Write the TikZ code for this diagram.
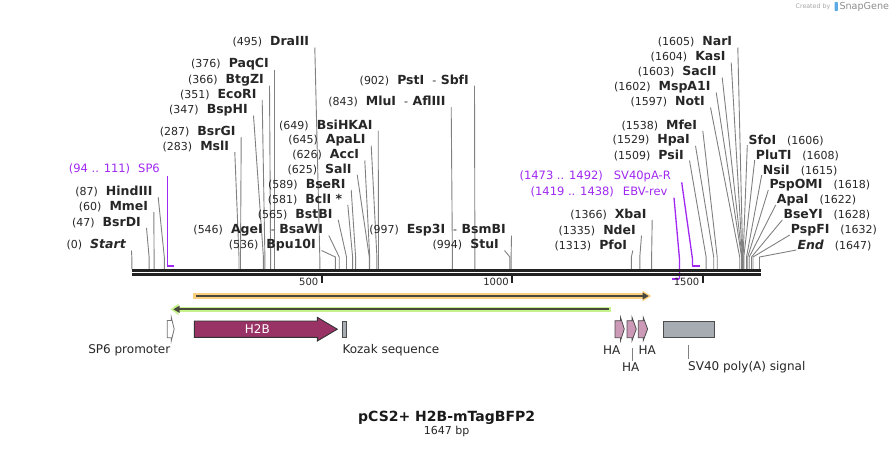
\documentclass[tikz,border=0pt]{standalone}
\usepackage{fontspec}
\setmainfont{DejaVu Sans}
\usepackage{tikz}

\definecolor{cutgray}{RGB}{128,128,128}
\definecolor{primer}{RGB}{160,40,240}
\definecolor{orfo}{RGB}{251,206,128}
\definecolor{orfg}{RGB}{198,242,140}
\definecolor{orfdark}{RGB}{72,72,60}
\definecolor{h2b}{RGB}{153,51,102}
\definecolor{hapink}{RGB}{204,153,182}
\definecolor{featgray}{RGB}{166,172,178}
\definecolor{bbone}{RGB}{34,34,34}
\definecolor{logoblue}{RGB}{90,170,230}

\newcommand{\enz}[1]{{\fontsize{12.5}{14}\selectfont\bfseries #1}}

\tikzset{
  cutl/.style={anchor=east,inner sep=0pt,font=\fontsize{11}{13}\selectfont,text=black!85},
  cutr/.style={anchor=west,inner sep=0pt,font=\fontsize{11}{13}\selectfont,text=black!85},
  cutline/.style={draw=cutgray,line width=0.9pt},
  primlbl/.style={anchor=east,inner sep=0pt,font=\fontsize{11.5}{13}\selectfont,text=primer},
  primline/.style={draw=primer,line width=1.3pt},
  featlbl/.style={inner sep=0pt,font=\fontsize{12}{14}\selectfont,text=black!85},
  featbox/.style={draw=black!70,line width=0.9pt,fill=featgray,inner sep=0pt},
  ticklbl/.style={anchor=east,inner sep=0pt,font=\fontsize{10}{12}\selectfont,text=black!85},
}

\begin{document}
\begin{tikzpicture}[x=1pt,y=-1pt]
\useasboundingbox (0,0) rectangle (893,448);

% left hand cut sites
\node[cutl] (start) at (126,245) {(0)\hspace{8pt}\enz{\itshape Start}};
\coordinate (start-c) at (131.8,269);
\draw[cutline] ([xshift=5.5pt,yshift=-5.5pt]start.east) -- ([yshift=12pt]start-c) -- (start-c);

\node[cutl] (bsrdi) at (141,222.3) {(47)\hspace{8pt}\enz{BsrDI}};
\coordinate (bsrdi-c) at (149.1,269);
\draw[cutline] ([xshift=5.5pt,yshift=-5.5pt]bsrdi.east) -- ([yshift=12pt]bsrdi-c) -- (bsrdi-c);

\node[cutl] (mmei) at (148.3,206.7) {(60)\hspace{8pt}\enz{MmeI}};
\coordinate (mmei-c) at (154.1,269);
\draw[cutline] ([xshift=5.5pt,yshift=-5.5pt]mmei.east) -- ([yshift=12pt]mmei-c) -- (mmei-c);

\node[cutl] (hindiii) at (152.7,191.7) {(87)\hspace{8pt}\enz{HindIII}};
\coordinate (hindiii-c) at (164.3,269);
\draw[cutline] ([xshift=5.5pt,yshift=-5.5pt]hindiii.east) -- ([yshift=12pt]hindiii-c) -- (hindiii-c);

\node[cutl] (msli) at (229.3,146.7) {(283)\hspace{8pt}\enz{MslI}};
\coordinate (msli-c) at (239.0,269);
\draw[cutline] ([xshift=5.5pt,yshift=-5.5pt]msli.east) -- ([yshift=12pt]msli-c) -- (msli-c);

\node[cutl] (bsrgi) at (235.7,131.7) {(287)\hspace{8pt}\enz{BsrGI}};
\coordinate (bsrgi-c) at (240.5,269);
\draw[cutline] ([xshift=5.5pt,yshift=-5.5pt]bsrgi.east) -- ([yshift=12pt]bsrgi-c) -- (bsrgi-c);

\node[cutl] (bsphi) at (248,110) {(347)\hspace{8pt}\enz{BspHI}};
\coordinate (bsphi-c) at (263.4,269);
\draw[cutline] ([xshift=5.5pt,yshift=-5.5pt]bsphi.east) -- ([yshift=12pt]bsphi-c) -- (bsphi-c);

\node[cutl] (ecori) at (256.7,94.3) {(351)\hspace{8pt}\enz{EcoRI}};
\coordinate (ecori-c) at (264.9,269);
\draw[cutline] ([xshift=5.5pt,yshift=-5.5pt]ecori.east) -- ([yshift=12pt]ecori-c) -- (ecori-c);

\node[cutl] (btgzi) at (264,80) {(366)\hspace{8pt}\enz{BtgZI}};
\coordinate (btgzi-c) at (270.6,269);
\draw[cutline] ([xshift=5.5pt,yshift=-5.5pt]btgzi.east) -- ([yshift=12pt]btgzi-c) -- (btgzi-c);

\node[cutl] (paqci) at (269,64.3) {(376)\hspace{8pt}\enz{PaqCI}};
\coordinate (paqci-c) at (274.5,269);
\draw[cutline] ([xshift=5.5pt,yshift=-5.5pt]paqci.east) -- ([yshift=12pt]paqci-c) -- (paqci-c);

\node[cutl] (draiii) at (309.3,42) {(495)\hspace{8pt}\enz{DraIII}};
\coordinate (draiii-c) at (319.8,269);
\draw[cutline] ([xshift=5.5pt,yshift=-5.5pt]draiii.east) -- ([yshift=12pt]draiii-c) -- (draiii-c);

\node[cutl] (bpuI) at (316,245) {(536)\hspace{8pt}\enz{Bpu10I}};
\coordinate (bpuI-c) at (335.4,269);
\draw[cutline] ([xshift=5.5pt,yshift=-5.5pt]bpuI.east) -- ([yshift=12pt]bpuI-c) -- (bpuI-c);

\node[cutl] (agei) at (323.3,230) {(546)\hspace{8pt}\enz{AgeI}\hspace{8pt}-\hspace{4.5pt}\enz{BsaWI}};
\coordinate (agei-c) at (339.2,269);
\draw[cutline] ([xshift=5.5pt,yshift=-5.5pt]agei.east) -- ([yshift=12pt]agei-c) -- (agei-c);

\node[cutl] (bstbi) at (332.7,214.3) {(565)\hspace{8pt}\enz{BstBI}};
\coordinate (bstbi-c) at (346.5,269);
\draw[cutline] ([xshift=5.5pt,yshift=-5.5pt]bstbi.east) -- ([yshift=12pt]bstbi-c) -- (bstbi-c);

\node[cutl] (bcli) at (342.3,199.3) {(581)\hspace{8pt}\enz{BclI *}};
\coordinate (bcli-c) at (352.6,269);
\draw[cutline] ([xshift=5.5pt,yshift=-5.5pt]bcli.east) -- ([yshift=12pt]bcli-c) -- (bcli-c);

\node[cutl] (bseri) at (345.7,184.3) {(589)\hspace{8pt}\enz{BseRI}};
\coordinate (bseri-c) at (355.6,269);
\draw[cutline] ([xshift=5.5pt,yshift=-5.5pt]bseri.east) -- ([yshift=12pt]bseri-c) -- (bseri-c);

\node[cutl] (sali) at (351.7,169.3) {(625)\hspace{8pt}\enz{SalI}};
\coordinate (sali-c) at (369.3,269);
\draw[cutline] ([xshift=5.5pt,yshift=-5.5pt]sali.east) -- ([yshift=12pt]sali-c) -- (sali-c);

\node[cutl] (acci) at (359.3,155) {(626)\hspace{8pt}\enz{AccI}};
\coordinate (acci-c) at (369.7,269);
\draw[cutline] ([xshift=5.5pt,yshift=-5.5pt]acci.east) -- ([yshift=12pt]acci-c) -- (acci-c);

\node[cutl] (apali) at (365.7,140) {(645)\hspace{8pt}\enz{ApaLI}};
\coordinate (apali-c) at (376.9,269);
\draw[cutline] ([xshift=5.5pt,yshift=-5.5pt]apali.east) -- ([yshift=12pt]apali-c) -- (apali-c);

\node[cutl] (bsihkai) at (372.7,125) {(649)\hspace{8pt}\enz{BsiHKAI}};
\coordinate (bsihkai-c) at (378.5,269);
\draw[cutline] ([xshift=5.5pt,yshift=-5.5pt]bsihkai.east) -- ([yshift=12pt]bsihkai-c) -- (bsihkai-c);

\node[cutl] (mlui) at (445.7,101.7) {(843)\hspace{8pt}\enz{MluI}\hspace{8pt}-\hspace{4.5pt}\enz{AflIII}};
\coordinate (mlui-c) at (452.4,269);
\draw[cutline] ([xshift=5.5pt,yshift=-5.5pt]mlui.east) -- ([yshift=12pt]mlui-c) -- (mlui-c);

\node[cutl] (psti) at (469,80) {(902)\hspace{8pt}\enz{PstI}\hspace{8pt}-\hspace{4.5pt}\enz{SbfI}};
\coordinate (psti-c) at (474.9,269);
\draw[cutline] ([xshift=5.5pt,yshift=-5.5pt]psti.east) -- ([yshift=12pt]psti-c) -- (psti-c);

\node[cutl] (stui) at (499,245) {(994)\hspace{8pt}\enz{StuI}};
\coordinate (stui-c) at (509.9,269);
\draw[cutline] ([xshift=5.5pt,yshift=-5.5pt]stui.east) -- ([yshift=12pt]stui-c) -- (stui-c);

\node[cutl] (espi) at (506,230) {(997)\hspace{8pt}\enz{Esp3I}\hspace{8pt}-\hspace{4.5pt}\enz{BsmBI}};
\coordinate (espi-c) at (511.1,269);
\draw[cutline] ([xshift=5.5pt,yshift=-5.5pt]espi.east) -- ([yshift=12pt]espi-c) -- (espi-c);

\node[cutl] (pfoi) at (627.3,245) {(1313)\hspace{8pt}\enz{PfoI}};
\coordinate (pfoi-c) at (631.4,269);
\draw[cutline] ([xshift=5.5pt,yshift=-5.5pt]pfoi.east) -- ([yshift=12pt]pfoi-c) -- (pfoi-c);

\node[cutl] (ndei) at (636,230) {(1335)\hspace{8pt}\enz{NdeI}};
\coordinate (ndei-c) at (639.8,269);
\draw[cutline] ([xshift=5.5pt,yshift=-5.5pt]ndei.east) -- ([yshift=12pt]ndei-c) -- (ndei-c);

\node[cutl] (xbai) at (646.7,214.3) {(1366)\hspace{8pt}\enz{XbaI}};
\coordinate (xbai-c) at (651.6,269);
\draw[cutline] ([xshift=5.5pt,yshift=-5.5pt]xbai.east) -- ([yshift=12pt]xbai-c) -- (xbai-c);

\node[cutl] (psii) at (684,155) {(1509)\hspace{8pt}\enz{PsiI}};
\coordinate (psii-c) at (706.1,269);
\draw[cutline] ([xshift=5.5pt,yshift=-5.5pt]psii.east) -- ([yshift=12pt]psii-c) -- (psii-c);

\node[cutl] (hpai) at (690,140.3) {(1529)\hspace{8pt}\enz{HpaI}};
\coordinate (hpai-c) at (713.7,269);
\draw[cutline] ([xshift=5.5pt,yshift=-5.5pt]hpai.east) -- ([yshift=12pt]hpai-c) -- (hpai-c);

\node[cutl] (mfei) at (697.3,125.3) {(1538)\hspace{8pt}\enz{MfeI}};
\coordinate (mfei-c) at (717.2,269);
\draw[cutline] ([xshift=5.5pt,yshift=-5.5pt]mfei.east) -- ([yshift=12pt]mfei-c) -- (mfei-c);

\node[cutl] (noti) at (705,102) {(1597)\hspace{8pt}\enz{NotI}};
\coordinate (noti-c) at (739.7,269);
\draw[cutline] ([xshift=5.5pt,yshift=-5.5pt]noti.east) -- ([yshift=12pt]noti-c) -- (noti-c);

\node[cutl] (mspai) at (710.7,87) {(1602)\hspace{8pt}\enz{MspA1I}};
\coordinate (mspai-c) at (741.6,269);
\draw[cutline] ([xshift=5.5pt,yshift=-5.5pt]mspai.east) -- ([yshift=12pt]mspai-c) -- (mspai-c);

\node[cutl] (sacii) at (716.7,72) {(1603)\hspace{8pt}\enz{SacII}};
\coordinate (sacii-c) at (742.0,269);
\draw[cutline] ([xshift=5.5pt,yshift=-5.5pt]sacii.east) -- ([yshift=12pt]sacii-c) -- (sacii-c);

\node[cutl] (kasi) at (725.7,57) {(1604)\hspace{8pt}\enz{KasI}};
\coordinate (kasi-c) at (742.3,269);
\draw[cutline] ([xshift=5.5pt,yshift=-5.5pt]kasi.east) -- ([yshift=12pt]kasi-c) -- (kasi-c);

\node[cutl] (nari) at (732.3,42) {(1605)\hspace{8pt}\enz{NarI}};
\coordinate (nari-c) at (742.7,269);
\draw[cutline] ([xshift=5.5pt,yshift=-5.5pt]nari.east) -- ([yshift=12pt]nari-c) -- (nari-c);

% right hand cut sites
\node[cutr] (sfoi) at (748.3,140) {\enz{SfoI}\hspace{11pt}(1606)};
\coordinate (sfoi-c) at (743.1,269);
\draw[cutline] ([xshift=-1pt,yshift=-5pt]sfoi.west) -- ([yshift=12pt]sfoi-c) -- (sfoi-c);

\node[cutr] (pluti) at (755.7,155) {\enz{PluTI}\hspace{11pt}(1608)};
\coordinate (pluti-c) at (743.8,269);
\draw[cutline] ([xshift=-1pt,yshift=-5pt]pluti.west) -- ([yshift=12pt]pluti-c) -- (pluti-c);

\node[cutr] (nsii) at (762.7,170) {\enz{NsiI}\hspace{11pt}(1615)};
\coordinate (nsii-c) at (746.5,269);
\draw[cutline] ([xshift=-1pt,yshift=-5pt]nsii.west) -- ([yshift=12pt]nsii-c) -- (nsii-c);

\node[cutr] (pspomi) at (769.3,185) {\enz{PspOMI}\hspace{11pt}(1618)};
\coordinate (pspomi-c) at (747.7,269);
\draw[cutline] ([xshift=-1pt,yshift=-5pt]pspomi.west) -- ([yshift=12pt]pspomi-c) -- (pspomi-c);

\node[cutr] (apai) at (776.7,200) {\enz{ApaI}\hspace{11pt}(1622)};
\coordinate (apai-c) at (749.2,269);
\draw[cutline] ([xshift=-1pt,yshift=-5pt]apai.west) -- ([yshift=12pt]apai-c) -- (apai-c);

\node[cutr] (bseyi) at (783.3,215) {\enz{BseYI}\hspace{11pt}(1628)};
\coordinate (bseyi-c) at (751.5,269);
\draw[cutline] ([xshift=-1pt,yshift=-5pt]bseyi.west) -- ([yshift=12pt]bseyi-c) -- (bseyi-c);

\node[cutr] (pspfi) at (790.7,230) {\enz{PspFI}\hspace{11pt}(1632)};
\coordinate (pspfi-c) at (753.0,269);
\draw[cutline] ([xshift=-1pt,yshift=-5pt]pspfi.west) -- ([yshift=12pt]pspfi-c) -- (pspfi-c);

\node[cutr] (end) at (797.3,245) {\enz{\itshape End}\hspace{11pt}(1647)};
\coordinate (end-c) at (759.5,269);
\draw[cutline] ([xshift=-1pt,yshift=-5pt]end.west) -- ([yshift=12pt]end-c) -- (end-c);

% primers
\node[primlbl] (sp6) at (160,169.3) {(94 .. 111)\hspace{8pt}SP6};
\coordinate (sp6-a) at (167.3,265.5);
\coordinate (sp6-b) at (173.8,265.5);
\draw[primline] ([xshift=7.3pt,yshift=-6.4pt]sp6.east) -- (sp6-a);
\draw[primline,line width=2pt] (sp6-a) -- (sp6-b);

\node[primlbl] (sv40r) at (671,176.7) {(1473 .. 1492)\hspace{11pt}SV40pA-R};
\coordinate (sv40r-a) at (692.4,265.5);
\coordinate (sv40r-b) at (699.6,265.5);
\draw[primline] ([xshift=10.7pt,yshift=-5.6pt]sv40r.east) -- ([yshift=7pt]sv40r-a) -- (sv40r-a);
\draw[primline,line width=2pt] (sv40r-a) -- (sv40r-b);

\node[primlbl] (ebv) at (667.7,192) {(1419 .. 1438)\hspace{9pt}EBV-rev};
\coordinate (ebv-a) at (679.4,279);
\coordinate (ebv-b) at (671.8,279);
\draw[primline] ([xshift=6.3pt,yshift=-5.7pt]ebv.east) -- ([yshift=21pt]ebv-a) -- (ebv-a);
\draw[primline,line width=2pt] (ebv-a) -- (ebv-b);

% backbone and ruler
\draw[bbone,line width=2.5pt] (131.8,270.6) -- (760.5,270.6);
\draw[bbone,line width=2.5pt] (131.8,274.3) -- (760.5,274.3);
\draw[bbone,line width=2pt] (321.7,275) -- (321.7,283);
\draw[bbone,line width=2pt] (512.2,275) -- (512.2,283);
\draw[bbone,line width=2pt] (702.7,275) -- (702.7,283);
\node[ticklbl] (t500) at (318.5,281.8) {500};
\node[ticklbl] (t1000) at (509,281.8) {1000};
\node[ticklbl] (t1500) at (699.5,281.8) {1500};

% ORFs
\fill[orfo] (193.3,293.4) rectangle (644,298.6);
\fill[orfo] (642.5,290.6) -- (651.2,296) -- (642.5,301.4) -- cycle;
\draw[orfdark,line width=1.7pt] (195.5,296) -- (643.5,296);
\fill[orfdark] (642.5,292.4) -- (648.6,296) -- (642.5,299.6) -- cycle;

\fill[orfg] (177,306.8) rectangle (611,311.8);
\fill[orfg] (178.5,303.6) -- (170.6,309.3) -- (178.5,315) -- cycle;
\draw[orfdark,line width=1.7pt] (178.5,309.3) -- (609,309.3);
\fill[orfdark] (179.5,305.7) -- (173.4,309.3) -- (179.5,312.9) -- cycle;

% features
\draw[draw=black!55,fill=white,line width=0.8pt] (167.3,320.5) -- (171.3,320.5) -- (171.3,317.3) -- (174.2,329) -- (171.3,340.7) -- (171.3,337.7) -- (167.3,337.7) -- cycle;
\node[featlbl,anchor=east] (sp6prom) at (170.5,350.5) {SP6 promoter};

\draw[draw=black!80,fill=h2b,line width=0.9pt] (194.3,321) -- (317.3,321) -- (317.3,317.3) -- (337.3,329.2) -- (317.3,341) -- (317.3,337.3) -- (194.3,337.3) -- cycle;
\node[featlbl,text=white] (h2b) at (257.3,329.2) {H2B};

\node[featbox,minimum width=4.4pt,minimum height=16.3pt] (kozak) at (344.5,329.2) {};
\node[featlbl,anchor=west] (kozaklbl) at (342.3,350.5) {Kozak sequence};

\draw[draw=black!70,fill=hapink,line width=0.8pt] (615,320.7) -- (620.5,320.7) -- (620.5,317.3) -- (624.3,329) -- (620.5,340.7) -- (620.5,337.7) -- (615,337.7) -- cycle;
\draw[draw=black!70,fill=hapink,line width=0.8pt] (627,320.7) -- (632,320.7) -- (632,317.3) -- (636.3,329) -- (632,340.7) -- (632,337.7) -- (627,337.7) -- cycle;
\draw[draw=black!70,fill=hapink,line width=0.8pt] (638.3,320.7) -- (643.2,320.7) -- (643.2,317.3) -- (647.6,329) -- (643.2,340.7) -- (643.2,337.7) -- (638.3,337.7) -- cycle;
\node[featlbl] (ha1) at (611.7,350.5) {HA};
\node[featlbl] (ha2) at (630.7,366.7) {HA};
\node[featlbl] (ha3) at (647.3,350.5) {HA};
\coordinate (ha2-c) at (632.3,348.3);
\draw[cutline] (ha2-c) -- ([yshift=1.5pt]ha2-c |- ha2.north);

\node[featbox,minimum width=51pt,minimum height=16pt] (sv40) at (688.8,329.3) {};
\node[featlbl,anchor=west] (sv40lbl) at (688,366.7) {SV40 poly(A) signal};
\draw[cutline] ([yshift=-7pt]sv40.south) -- ([yshift=1.5pt]sv40.south |- sv40lbl.north);

% title
\node[font=\fontsize{14}{16}\selectfont\bfseries,text=black!90] (title) at (446.7,417.7) {pCS2+ H2B-mTagBFP2};
\node[font=\fontsize{11}{13}\selectfont,text=black!85] (length) at (446.7,431.7) {1647 bp};

% credit
\node[anchor=east,inner sep=0pt,font=\fontsize{6.3}{7}\selectfont,text=black!35] (created) at (830.5,6.5) {Created by};
\fill[logoblue,rounded corners=0.8pt] (834.5,2) rectangle (837.8,11);
\node[anchor=west,inner sep=0pt,font=\fontsize{9.6}{11}\selectfont,text=black!45] (snapgene) at (839.3,6.5) {SnapGene};
\end{tikzpicture}
\end{document}
